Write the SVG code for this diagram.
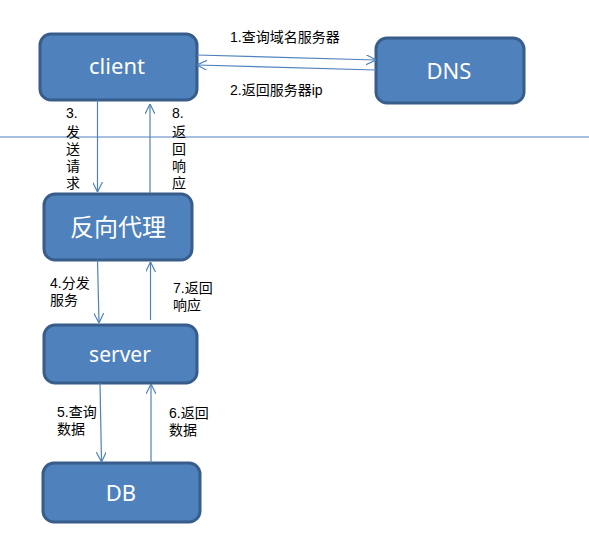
<svg xmlns="http://www.w3.org/2000/svg" width="589" height="558" viewBox="0 0 589 558">
<style>
.box{fill:#4F81BD;stroke:#385D8A;stroke-width:3}
.lbl{fill:#fff;font-family:"Noto Sans","Noto Sans CJK SC",sans-serif;text-anchor:middle}
.t{fill:#000;font-family:"Liberation Sans","Noto Sans CJK SC",sans-serif;font-size:14px}
.c{stroke:#4F81BD;stroke-width:1.2;fill:none;marker-end:url(#ah)}
</style>
<defs>
<marker id="ah" viewBox="0 0 10 10" refX="10" refY="5" markerWidth="10" markerHeight="10" markerUnits="userSpaceOnUse" orient="auto">
<path d="M0,0 L10,5 L0,10" fill="none" stroke="#4F81BD" stroke-width="1.2"/>
</marker>
</defs>
<rect width="589" height="558" fill="#fff"/>
<line x1="0" y1="137" x2="589" y2="137" stroke="#4F81BD" stroke-width="1"/>
<g id="client"><rect class="box" x="40" y="34" width="157" height="66" rx="11"/><text class="lbl" x="117" y="74" font-size="22">client</text></g>
<g id="dns"><rect class="box" x="376" y="38" width="148" height="65" rx="11"/><text class="lbl" x="449" y="79" font-size="22">DNS</text></g>
<g id="proxy"><rect class="box" x="44" y="194" width="148" height="66" rx="11"/><text class="lbl" x="118" y="236" font-size="24">反向代理</text></g>
<g id="server"><rect class="box" x="44" y="325" width="153" height="58" rx="11"/><text class="lbl" x="120" y="362" font-size="21">server</text></g>
<g id="db"><rect class="box" x="43" y="463" width="157" height="59" rx="11"/><text class="lbl" x="121" y="501" font-size="22">DB</text></g>
<g id="connectors">
<path class="c" d="M197,55 L376,60"/>
<path class="c" d="M376,70 L197,65"/>
<path class="c" d="M97.5,100 L97.5,192"/>
<path class="c" d="M150,193 L150,104"/>
<path class="c" d="M97.5,260 L99,323"/>
<path class="c" d="M150.5,320 L150.5,262"/>
<path class="c" d="M100,383 L101.5,462"/>
<path class="c" d="M151,463 L151,384"/>
</g>
<g id="labels">
<text class="t" x="230" y="42">1.查询域名服务器</text>
<text class="t" x="230" y="95">2.返回服务器ip</text>
<text class="t" x="66" y="118">3.</text>
<text class="t" x="66" y="137">发</text>
<text class="t" x="66" y="154">送</text>
<text class="t" x="66" y="171">请</text>
<text class="t" x="66" y="188">求</text>
<text class="t" x="172" y="118">8.</text>
<text class="t" x="172" y="137">返</text>
<text class="t" x="172" y="154">回</text>
<text class="t" x="172" y="171">响</text>
<text class="t" x="172" y="188">应</text>
<text class="t" x="50" y="288">4.分发</text>
<text class="t" x="50" y="305">服务</text>
<text class="t" x="173" y="293">7.返回</text>
<text class="t" x="173" y="310">响应</text>
<text class="t" x="57" y="417">5.查询</text>
<text class="t" x="57" y="434">数据</text>
<text class="t" x="169" y="418">6.返回</text>
<text class="t" x="169" y="435">数据</text>
</g>
</svg>
